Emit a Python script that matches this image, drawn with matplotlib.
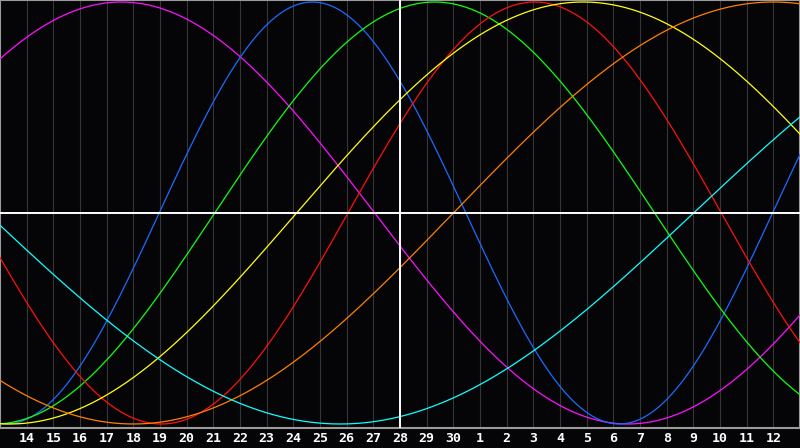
import numpy as np
import matplotlib.pyplot as plt

# day labels under the grid lines (13th at left edge, 13th at right edge)
day_labels = [str(d) for d in range(14, 31)] + [str(d) for d in range(1, 13)]
today_pos = 15  # white line, under "28"

# cycles: length in days and position (in day units from left edge) of the crest
cycle_names = ['physical', 'emotional', 'intellectual', 'intuitive',
               'aesthetic', 'awareness', 'spiritual']
cycle_length = [23, 28, 33, 38, 43, 48, 53]
cycle_peak = [11.72, 20.05, 16.3, 4.55, 21.87, 29.0, 39.26]
cycle_color = ['#1a6cff', '#ff1010', '#10ff10', '#ff10ff',
               '#ffff10', '#ff8000', '#10ffff']

fig = plt.figure(figsize=(8, 4.48), dpi=100, facecolor='#050508')
ax = fig.add_axes([0, 20 / 448, 1, 428 / 448])
ax.set_facecolor('#050508')

n_days = len(day_labels) + 1
x = np.linspace(0, n_days, 1200)

# grid lines for each day
for k in range(1, n_days):
    ax.axvline(k, color='#363636', lw=0.8, zorder=1)

draw_order = [3, 0, 2, 1, 4, 5, 6]
for i in draw_order:
    y = np.cos(2 * np.pi * (x - cycle_peak[i]) / cycle_length[i])
    ax.plot(x, y, color=cycle_color[i], lw=0.9, zorder=3, label=cycle_names[i])

ax.axhline(0, color='white', lw=1.4, zorder=4)
ax.axvline(today_pos, color='white', lw=1.4, zorder=4)

ax.set_xlim(0, n_days)
ax.set_ylim(-1.019, 1.0095)

for s in ['top', 'left', 'bottom', 'right']:
    ax.spines[s].set_color('#9a9a9a')
    ax.spines[s].set_linewidth(1.5)
ax.set_yticks([])
ax.set_xticks(range(1, n_days))
ax.set_xticklabels(day_labels, color='white', fontsize=9.5,
                   fontweight='bold', family='DejaVu Sans Mono')
ax.tick_params(axis='x', length=0, pad=3)

fig.savefig('out.png', dpi=100, facecolor=fig.get_facecolor())
